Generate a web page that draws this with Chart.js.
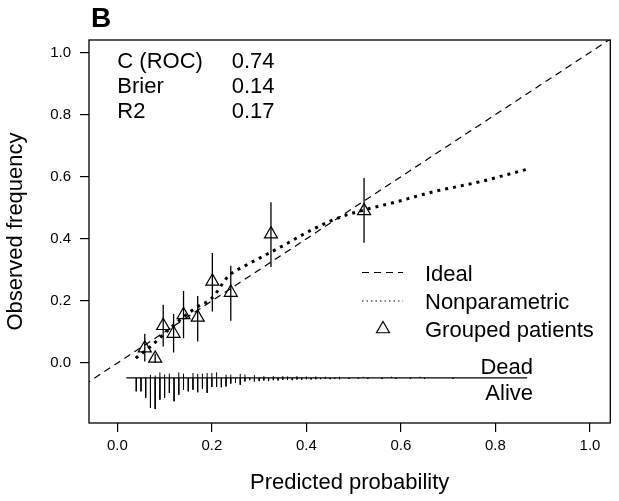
<!DOCTYPE html>
<html>
<head>
<meta charset="utf-8">
<script src="https://cdn.jsdelivr.net/npm/chart.js@4.4.1/dist/chart.umd.min.js"></script>
<style>
  html, body { margin: 0; padding: 0; background: #fff; }
  canvas { display: block; }
</style>
</head>
<body>
<canvas id="chart" width="619" height="501"></canvas>
<script>
// axis ticks
const tickValues = [0, 0.2, 0.4, 0.6, 0.8, 1.0];

// ideal (45 degree) reference line
const idealX = [-0.07, 1.06];

// nonparametric (smoothed) calibration curve
const smoothX = [0.039, 0.070, 0.116, 0.165, 0.200, 0.235, 0.270, 0.300, 0.347, 0.418, 0.474, 0.523, 0.593, 0.670, 0.768, 0.867];
const smoothY = [0.016, 0.053, 0.118, 0.177, 0.209, 0.280, 0.313, 0.337, 0.375, 0.434, 0.471, 0.493, 0.520, 0.552, 0.584, 0.624];

// grouped patients: mean predicted vs observed, with CI
const groupX  = [0.058, 0.080, 0.097, 0.119, 0.140, 0.170, 0.201, 0.240, 0.325, 0.522];
const groupY  = [0.048, 0.015, 0.120, 0.095, 0.155, 0.147, 0.263, 0.227, 0.415, 0.490];
const groupLo = [0.005, 0.000, 0.053, 0.034, 0.080, 0.069, 0.166, 0.136, 0.309, 0.387];
const groupHi = [0.094, 0.030, 0.188, 0.158, 0.232, 0.216, 0.354, 0.313, 0.518, 0.596];

// spike histogram of predictions (heights in y-axis units)
const spikeBase = -0.048;
const spikeRange = [0.019, 0.867];
const aliveX = [0.04, 0.05, 0.06, 0.07, 0.08, 0.09, 0.10, 0.11, 0.12, 0.13, 0.14, 0.15, 0.16, 0.17, 0.18, 0.19, 0.20,
  0.21, 0.22, 0.23, 0.24, 0.25, 0.26, 0.27, 0.28, 0.29, 0.30, 0.31, 0.32, 0.33, 0.34, 0.35, 0.36, 0.37, 0.38, 0.39,
  0.40, 0.41, 0.42, 0.43, 0.44, 0.45, 0.46, 0.47, 0.49, 0.51, 0.53, 0.56, 0.59, 0.62, 0.65, 0.71];
const aliveH = [0.043, 0.043, 0.064, 0.096, 0.100, 0.070, 0.064, 0.048, 0.075, 0.054, 0.038, 0.043, 0.038, 0.046, 0.035, 0.048, 0.029,
  0.029, 0.030, 0.027, 0.018, 0.016, 0.022, 0.011, 0.007, 0.011, 0.010, 0.008, 0.010, 0.007, 0.008, 0.006, 0.006, 0.007, 0.005, 0.006,
  0.004, 0.005, 0.004, 0.004, 0.003, 0.004, 0.003, 0.004, 0.003, 0.003, 0.003, 0.003, 0.003, 0.003, 0.003, 0.003];
const deadX = [0.07, 0.08, 0.09, 0.10, 0.11, 0.13, 0.14, 0.16, 0.17, 0.18, 0.19, 0.20, 0.21, 0.23, 0.24, 0.26, 0.27, 0.29,
  0.31, 0.33, 0.35, 0.36, 0.38, 0.40, 0.42, 0.44, 0.47, 0.52, 0.58, 0.64];
const deadH = [0.010, 0.008, 0.018, 0.011, 0.014, 0.018, 0.014, 0.016, 0.013, 0.014, 0.016, 0.016, 0.018, 0.011, 0.011, 0.013, 0.011, 0.009,
  0.006, 0.006, 0.006, 0.005, 0.006, 0.005, 0.005, 0.004, 0.004, 0.004, 0.004, 0.004];

const stats = [['C (ROC)', '0.74'], ['Brier', '0.14'], ['R2', '0.17']];

const FONT = '"Liberation Sans", Arial, Helvetica, sans-serif';
Chart.defaults.color = '#000';
Chart.defaults.font.family = FONT;

// vertical segments separated by gaps
const segments = (xs, y0s, y1s) => {
  const out = [];
  xs.forEach((x, i) => {
    out.push({ x, y: y0s[i] }, { x, y: y1s[i] }, { x, y: null });
  });
  return out;
};

const errorBars = segments(groupX, groupLo, groupHi);
const aliveSpikes = segments(aliveX, aliveX.map(() => spikeBase), aliveH.map(h => spikeBase - h));
const deadSpikes = segments(deadX, deadX.map(() => spikeBase), deadH.map(h => spikeBase + h));

const frameAndText = {
  id: 'frameAndText',
  afterDraw(chart) {
    const { ctx, chartArea: a, scales: { x } } = chart;
    ctx.save();
    ctx.strokeStyle = '#000';
    ctx.lineWidth = 1.3;
    ctx.strokeRect(a.left, a.top, a.right - a.left, a.bottom - a.top);

    ctx.fillStyle = '#000';
    ctx.textBaseline = 'alphabetic';
    ctx.font = 'bold 28px ' + FONT;
    ctx.fillText('B', 91, 27);

    ctx.font = '22px ' + FONT;
    const sx = x.getPixelForValue(0);
    const vx = x.getPixelForValue(0.242);
    stats.forEach(([k, v], i) => {
      ctx.fillText(k, sx, 68 + i * 25);
      ctx.fillText(v, vx, 68 + i * 25);
    });

    // legend
    ctx.fillText('Ideal', 425, 281);
    ctx.fillText('Nonparametric', 425, 309);
    ctx.fillText('Grouped patients', 425, 337);
    ctx.lineWidth = 1.2;
    ctx.setLineDash([7, 5]);
    ctx.beginPath(); ctx.moveTo(362, 272.5); ctx.lineTo(403, 272.5); ctx.stroke();
    ctx.lineWidth = 1;
    ctx.setLineDash([1.5, 3]);
    ctx.beginPath(); ctx.moveTo(362, 301); ctx.lineTo(403, 301); ctx.stroke();
    ctx.setLineDash([]);
    ctx.lineWidth = 1.2;
    const r = 7.5, tx = 383, ty = 329;
    ctx.beginPath();
    ctx.moveTo(tx, ty - r);
    ctx.lineTo(tx + r * Math.sin(2 * Math.PI / 3), ty + r / 2);
    ctx.lineTo(tx - r * Math.sin(2 * Math.PI / 3), ty + r / 2);
    ctx.closePath();
    ctx.stroke();

    ctx.textAlign = 'right';
    ctx.fillText('Dead', 533, 374);
    ctx.fillText('Alive', 533, 400);
    ctx.restore();
  }
};

new Chart(document.getElementById('chart'), {
  type: 'scatter',
  data: {
    datasets: [
      {
        label: 'Ideal',
        data: idealX.map(v => ({ x: v, y: v })),
        showLine: true,
        borderColor: '#000',
        borderWidth: 1.2,
        borderDash: [7, 5],
        pointRadius: 0
      },
      {
        label: 'Nonparametric',
        data: smoothX.map((v, i) => ({ x: v, y: smoothY[i] })),
        showLine: true,
        borderColor: '#000',
        borderWidth: 3,
        borderDash: [3, 5],
        borderCapStyle: 'butt',
        cubicInterpolationMode: 'monotone',
        pointRadius: 0
      },
      {
        label: 'CI',
        data: errorBars,
        showLine: true,
        spanGaps: false,
        borderColor: '#000',
        borderWidth: 1.3,
        pointRadius: 0
      },
      {
        label: 'Grouped patients',
        data: groupX.map((v, i) => ({ x: v, y: groupY[i] })),
        pointStyle: 'triangle',
        pointRadius: 7.5,
        borderColor: '#000',
        borderWidth: 1.2,
        backgroundColor: 'rgba(0,0,0,0)'
      },
      {
        label: 'Baseline',
        data: spikeRange.map(v => ({ x: v, y: spikeBase })),
        showLine: true,
        borderColor: '#000',
        borderWidth: 1.2,
        pointRadius: 0
      },
      {
        label: 'Alive',
        data: aliveSpikes,
        showLine: true,
        spanGaps: false,
        borderColor: '#000',
        borderWidth: 1,
        pointRadius: 0
      },
      {
        label: 'Dead',
        data: deadSpikes,
        showLine: true,
        spanGaps: false,
        borderColor: '#000',
        borderWidth: 1,
        pointRadius: 0
      }
    ]
  },
  options: {
    responsive: false,
    animation: false,
    devicePixelRatio: 1,
    layout: { padding: { top: 40, right: 6, left: 0, bottom: 0 } },
    plugins: {
      legend: { display: false },
      tooltip: { enabled: false }
    },
    scales: {
      x: {
        type: 'linear',
        min: -0.06,
        max: 1.043,
        afterBuildTicks: s => { s.ticks = tickValues.map(v => ({ value: v })); },
        afterFit: s => { s.height = 78; },
        grid: { drawOnChartArea: false, tickLength: 9, color: '#000', lineWidth: 1.2 },
        border: { display: false },
        ticks: { callback: v => v.toFixed(1), font: { size: 15 }, color: '#000', padding: 5, maxRotation: 0, autoSkip: false },
        title: { display: true, text: 'Predicted probability', font: { size: 22 }, color: '#000', padding: { top: 0, bottom: 5 } }
      },
      y: {
        type: 'linear',
        min: -0.193,
        max: 1.04,
        afterBuildTicks: s => { s.ticks = tickValues.map(v => ({ value: v })); },
        afterFit: s => { s.width = 89; },
        grid: { drawOnChartArea: false, tickLength: 9, color: '#000', lineWidth: 1.2 },
        border: { display: false },
        ticks: { callback: v => v.toFixed(1), font: { size: 15 }, color: '#000', padding: 9, autoSkip: false },
        title: { display: true, text: 'Observed frequency', font: { size: 22 }, color: '#000', padding: { top: 3, bottom: 0 } }
      }
    }
  },
  plugins: [frameAndText]
});
</script>
</body>
</html>
